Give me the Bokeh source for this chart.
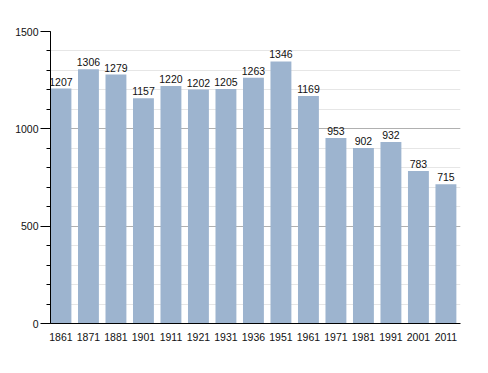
from bokeh.plotting import figure
from bokeh.models import ColumnDataSource, FixedTicker, Range1d, LabelSet
from bokeh.core.properties import value
from bokeh.embed import file_html
from bokeh.resources import INLINE

years = ["1861", "1871", "1881", "1901", "1911", "1921", "1931", "1936",
         "1951", "1961", "1971", "1981", "1991", "2001", "2011"]
population = [1207, 1306, 1279, 1157, 1220, 1202, 1205, 1263,
              1346, 1169, 953, 902, 932, 783, 715]

xs = list(range(len(years)))
src = ColumnDataSource(dict(x=xs, y=population, lab=[str(v) for v in population]))

FONT = "Arial"

p = figure(width=478, height=358, output_backend="svg", toolbar_location=None,
           x_range=Range1d(-0.38, 14.53), y_range=Range1d(0, 1500),
           min_border_left=50, min_border_right=18, min_border_top=31, min_border_bottom=35)
p.outline_line_color = None
p.background_fill_color = "white"

p.vbar(x="x", top="y", width=0.76, bottom=0, source=src,
       fill_color="#9DB4CF", line_color=None)

labels = LabelSet(x="x", y="y", text="lab", source=src, text_align="center",
                  text_baseline="bottom", y_offset=3, text_font=value(FONT),
                  text_font_size=value("10.5px"), text_color=value("#111111"))
p.add_layout(labels)

# y axis
p.yaxis.ticker = FixedTicker(ticks=[0, 500, 1000, 1500],
                             minor_ticks=list(range(0, 1501, 100)))
p.yaxis.axis_line_color = "black"
p.yaxis.major_tick_line_color = "black"
p.yaxis.major_tick_out = 10
p.yaxis.major_tick_in = 0
p.yaxis.minor_tick_line_color = "black"
p.yaxis.minor_tick_out = 4
p.yaxis.minor_tick_in = 0
p.yaxis.major_label_text_font = FONT
p.yaxis.major_label_text_font_size = "10.5px"
p.yaxis.major_label_text_color = "#111111"
p.yaxis.major_label_standoff = 2

# x axis
p.xaxis.ticker = FixedTicker(ticks=xs)
p.xaxis.major_label_overrides = {i: y for i, y in zip(xs, years)}
p.xaxis.axis_line_color = "black"
p.xaxis.major_tick_line_color = None
p.xaxis.minor_tick_line_color = None
p.xaxis.major_label_text_font = FONT
p.xaxis.major_label_text_font_size = "10.5px"
p.xaxis.major_label_text_color = "#111111"
p.xaxis.major_label_standoff = 3

# grid
p.xgrid.grid_line_color = None
p.ygrid.grid_line_color = "#B0B0B0"
p.ygrid.minor_grid_line_color = "#E6E6E6"
p.ygrid.level = "underlay"

open("out.html", "w").write(file_html(p, INLINE))
